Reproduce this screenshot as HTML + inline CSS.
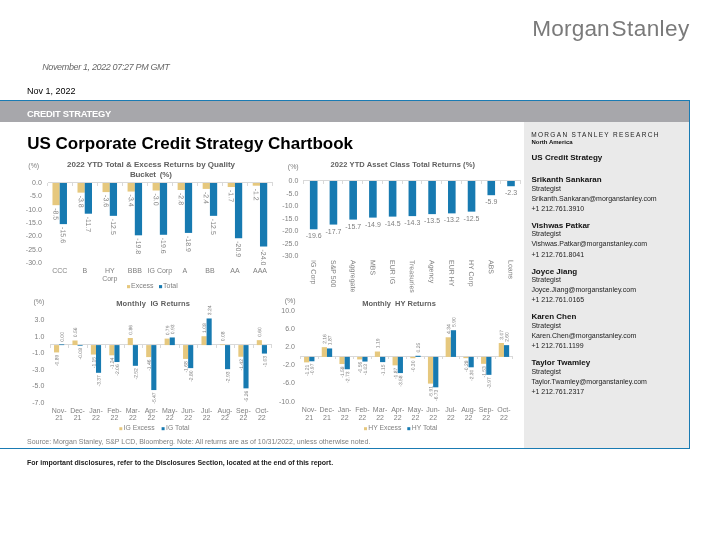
<!DOCTYPE html>
<html><head><meta charset="utf-8"><title>US Corporate Credit Strategy Chartbook</title>
<style>
html,body{margin:0;padding:0;background:#fff;}
body{width:720px;height:540px;position:relative;overflow:hidden;font-family:"Liberation Sans", sans-serif;}
.abs{position:absolute;}
svg{position:absolute;left:0;top:0;will-change:transform;}
svg text{font-family:"Liberation Sans", sans-serif;}
</style></head><body>
<div class="abs" style="left:0;top:100px;width:690px;height:1.2px;background:#1a7bb3"></div>
<div class="abs" style="left:0;top:101.2px;width:689px;height:20.4px;background:#a7a7ab"></div>
<div class="abs" style="left:524.2px;top:121.6px;width:164.8px;height:326.4px;background:#eaeaea"></div>
<div class="abs" style="left:689px;top:100px;width:1px;height:349px;background:#1a7bb3"></div>
<div class="abs" style="left:0;top:448px;width:690px;height:1px;background:#1a7bb3"></div>
<svg width="720" height="540" viewBox="0 0 720 540">
<text x="28.30" y="168.40" font-size="7" fill="#7f7f7f">(%)</text>
<text x="151.00" y="167.40" font-size="8" fill="#606060" font-weight="bold" text-anchor="middle" textLength="168" lengthAdjust="spacing">2022 YTD Total &amp; Excess Returns by Quality</text>
<text x="151.00" y="176.50" font-size="8" fill="#606060" font-weight="bold" text-anchor="middle" textLength="42" lengthAdjust="spacing" style="white-space:pre">Bucket  (%)</text>
<text x="41.80" y="185.00" font-size="7" fill="#7f7f7f" text-anchor="end">0.0</text>
<text x="41.80" y="198.34" font-size="7" fill="#7f7f7f" text-anchor="end">-5.0</text>
<text x="41.80" y="211.67" font-size="7" fill="#7f7f7f" text-anchor="end">-10.0</text>
<text x="41.80" y="225.00" font-size="7" fill="#7f7f7f" text-anchor="end">-15.0</text>
<text x="41.80" y="238.34" font-size="7" fill="#7f7f7f" text-anchor="end">-20.0</text>
<text x="41.80" y="251.68" font-size="7" fill="#7f7f7f" text-anchor="end">-25.0</text>
<text x="41.80" y="265.01" font-size="7" fill="#7f7f7f" text-anchor="end">-30.0</text>
<line x1="47.50" y1="182.50" x2="272.80" y2="182.50" stroke="#d9d9d9" stroke-width="1" shape-rendering="crispEdges"/>
<line x1="47.50" y1="182.50" x2="47.50" y2="185.50" stroke="#d9d9d9" stroke-width="1" shape-rendering="crispEdges"/>
<line x1="72.53" y1="182.50" x2="72.53" y2="185.50" stroke="#d9d9d9" stroke-width="1" shape-rendering="crispEdges"/>
<line x1="97.57" y1="182.50" x2="97.57" y2="185.50" stroke="#d9d9d9" stroke-width="1" shape-rendering="crispEdges"/>
<line x1="122.60" y1="182.50" x2="122.60" y2="185.50" stroke="#d9d9d9" stroke-width="1" shape-rendering="crispEdges"/>
<line x1="147.63" y1="182.50" x2="147.63" y2="185.50" stroke="#d9d9d9" stroke-width="1" shape-rendering="crispEdges"/>
<line x1="172.67" y1="182.50" x2="172.67" y2="185.50" stroke="#d9d9d9" stroke-width="1" shape-rendering="crispEdges"/>
<line x1="197.70" y1="182.50" x2="197.70" y2="185.50" stroke="#d9d9d9" stroke-width="1" shape-rendering="crispEdges"/>
<line x1="222.73" y1="182.50" x2="222.73" y2="185.50" stroke="#d9d9d9" stroke-width="1" shape-rendering="crispEdges"/>
<line x1="247.77" y1="182.50" x2="247.77" y2="185.50" stroke="#d9d9d9" stroke-width="1" shape-rendering="crispEdges"/>
<line x1="272.80" y1="182.50" x2="272.80" y2="185.50" stroke="#d9d9d9" stroke-width="1" shape-rendering="crispEdges"/>
<rect x="52.47" y="183.00" width="7.25" height="22.17" fill="#e6c87e"/>
<rect x="59.72" y="183.00" width="7.25" height="41.11" fill="#177ab1"/>
<text x="0" y="0" transform="translate(56.09,208.17) rotate(89.95)" font-size="7" fill="#7f7f7f" dominant-baseline="central">-8.5</text>
<text x="0" y="0" transform="translate(63.34,227.11) rotate(89.95)" font-size="7" fill="#7f7f7f" dominant-baseline="central">-15.6</text>
<text x="59.72" y="273.20" font-size="7" fill="#7f7f7f" text-anchor="middle">CCC</text>
<rect x="77.50" y="183.00" width="7.25" height="9.63" fill="#e6c87e"/>
<rect x="84.75" y="183.00" width="7.25" height="30.70" fill="#177ab1"/>
<text x="0" y="0" transform="translate(81.13,195.63) rotate(89.95)" font-size="7" fill="#7f7f7f" dominant-baseline="central">-3.8</text>
<text x="0" y="0" transform="translate(88.38,216.70) rotate(89.95)" font-size="7" fill="#7f7f7f" dominant-baseline="central">-11.7</text>
<text x="84.75" y="273.20" font-size="7" fill="#7f7f7f" text-anchor="middle">B</text>
<rect x="102.53" y="183.00" width="7.25" height="9.10" fill="#e6c87e"/>
<rect x="109.78" y="183.00" width="7.25" height="32.84" fill="#177ab1"/>
<text x="0" y="0" transform="translate(106.16,195.10) rotate(89.95)" font-size="7" fill="#7f7f7f" dominant-baseline="central">-3.6</text>
<text x="0" y="0" transform="translate(113.41,218.84) rotate(89.95)" font-size="7" fill="#7f7f7f" dominant-baseline="central">-12.5</text>
<text x="109.78" y="273.20" font-size="7" fill="#7f7f7f" text-anchor="middle">HY</text>
<text x="109.78" y="280.80" font-size="7" fill="#7f7f7f" text-anchor="middle">Corp</text>
<rect x="127.57" y="183.00" width="7.25" height="8.57" fill="#e6c87e"/>
<rect x="134.82" y="183.00" width="7.25" height="52.31" fill="#177ab1"/>
<text x="0" y="0" transform="translate(131.19,194.57) rotate(89.95)" font-size="7" fill="#7f7f7f" dominant-baseline="central">-3.4</text>
<text x="0" y="0" transform="translate(138.44,238.31) rotate(89.95)" font-size="7" fill="#7f7f7f" dominant-baseline="central">-19.8</text>
<text x="134.82" y="273.20" font-size="7" fill="#7f7f7f" text-anchor="middle">BBB</text>
<rect x="152.60" y="183.00" width="7.25" height="7.50" fill="#e6c87e"/>
<rect x="159.85" y="183.00" width="7.25" height="51.77" fill="#177ab1"/>
<text x="0" y="0" transform="translate(156.22,193.50) rotate(89.95)" font-size="7" fill="#7f7f7f" dominant-baseline="central">-3.0</text>
<text x="0" y="0" transform="translate(163.47,237.77) rotate(89.95)" font-size="7" fill="#7f7f7f" dominant-baseline="central">-19.6</text>
<text x="159.85" y="273.20" font-size="7" fill="#7f7f7f" text-anchor="middle">IG Corp</text>
<rect x="177.63" y="183.00" width="7.25" height="6.97" fill="#e6c87e"/>
<rect x="184.88" y="183.00" width="7.25" height="49.91" fill="#177ab1"/>
<text x="0" y="0" transform="translate(181.26,192.97) rotate(89.95)" font-size="7" fill="#7f7f7f" dominant-baseline="central">-2.8</text>
<text x="0" y="0" transform="translate(188.51,235.91) rotate(89.95)" font-size="7" fill="#7f7f7f" dominant-baseline="central">-18.9</text>
<text x="184.88" y="273.20" font-size="7" fill="#7f7f7f" text-anchor="middle">A</text>
<rect x="202.67" y="183.00" width="7.25" height="5.90" fill="#e6c87e"/>
<rect x="209.92" y="183.00" width="7.25" height="32.84" fill="#177ab1"/>
<text x="0" y="0" transform="translate(206.29,191.90) rotate(89.95)" font-size="7" fill="#7f7f7f" dominant-baseline="central">-2.4</text>
<text x="0" y="0" transform="translate(213.54,218.84) rotate(89.95)" font-size="7" fill="#7f7f7f" dominant-baseline="central">-12.5</text>
<text x="209.92" y="273.20" font-size="7" fill="#7f7f7f" text-anchor="middle">BB</text>
<rect x="227.70" y="183.00" width="7.25" height="4.03" fill="#e6c87e"/>
<rect x="234.95" y="183.00" width="7.25" height="55.24" fill="#177ab1"/>
<text x="0" y="0" transform="translate(231.32,190.03) rotate(89.95)" font-size="7" fill="#7f7f7f" dominant-baseline="central">-1.7</text>
<text x="0" y="0" transform="translate(238.57,241.24) rotate(89.95)" font-size="7" fill="#7f7f7f" dominant-baseline="central">-20.9</text>
<text x="234.95" y="273.20" font-size="7" fill="#7f7f7f" text-anchor="middle">AA</text>
<rect x="252.73" y="183.00" width="7.25" height="2.70" fill="#e6c87e"/>
<rect x="259.98" y="183.00" width="7.25" height="63.51" fill="#177ab1"/>
<text x="0" y="0" transform="translate(256.36,188.70) rotate(89.95)" font-size="7" fill="#7f7f7f" dominant-baseline="central">-1.2</text>
<text x="0" y="0" transform="translate(263.61,249.51) rotate(89.95)" font-size="7" fill="#7f7f7f" dominant-baseline="central">-24.0</text>
<text x="259.98" y="273.20" font-size="7" fill="#7f7f7f" text-anchor="middle">AAA</text>
<rect x="127.00" y="285.10" width="3.10" height="3.10" fill="#e6c87e"/>
<text x="131.00" y="288.20" font-size="7" fill="#7f7f7f">Excess</text>
<rect x="159.00" y="285.10" width="3.10" height="3.10" fill="#177ab1"/>
<text x="163.00" y="288.20" font-size="7" fill="#7f7f7f">Total</text>
<text x="287.80" y="168.70" font-size="7" fill="#7f7f7f">(%)</text>
<text x="330.60" y="167.20" font-size="7.5" fill="#606060" font-weight="bold" textLength="144.3" lengthAdjust="spacing">2022 YTD Asset Class Total Returns (%)</text>
<text x="298.30" y="183.10" font-size="7" fill="#7f7f7f" text-anchor="end">0.0</text>
<text x="298.30" y="195.60" font-size="7" fill="#7f7f7f" text-anchor="end">-5.0</text>
<text x="298.30" y="208.10" font-size="7" fill="#7f7f7f" text-anchor="end">-10.0</text>
<text x="298.30" y="220.60" font-size="7" fill="#7f7f7f" text-anchor="end">-15.0</text>
<text x="298.30" y="233.10" font-size="7" fill="#7f7f7f" text-anchor="end">-20.0</text>
<text x="298.30" y="245.60" font-size="7" fill="#7f7f7f" text-anchor="end">-25.0</text>
<text x="298.30" y="258.10" font-size="7" fill="#7f7f7f" text-anchor="end">-30.0</text>
<line x1="303.30" y1="180.50" x2="520.70" y2="180.50" stroke="#d9d9d9" stroke-width="1" shape-rendering="crispEdges"/>
<line x1="303.30" y1="180.50" x2="303.30" y2="183.50" stroke="#d9d9d9" stroke-width="1" shape-rendering="crispEdges"/>
<line x1="323.06" y1="180.50" x2="323.06" y2="183.50" stroke="#d9d9d9" stroke-width="1" shape-rendering="crispEdges"/>
<line x1="342.83" y1="180.50" x2="342.83" y2="183.50" stroke="#d9d9d9" stroke-width="1" shape-rendering="crispEdges"/>
<line x1="362.59" y1="180.50" x2="362.59" y2="183.50" stroke="#d9d9d9" stroke-width="1" shape-rendering="crispEdges"/>
<line x1="382.35" y1="180.50" x2="382.35" y2="183.50" stroke="#d9d9d9" stroke-width="1" shape-rendering="crispEdges"/>
<line x1="402.12" y1="180.50" x2="402.12" y2="183.50" stroke="#d9d9d9" stroke-width="1" shape-rendering="crispEdges"/>
<line x1="421.88" y1="180.50" x2="421.88" y2="183.50" stroke="#d9d9d9" stroke-width="1" shape-rendering="crispEdges"/>
<line x1="441.65" y1="180.50" x2="441.65" y2="183.50" stroke="#d9d9d9" stroke-width="1" shape-rendering="crispEdges"/>
<line x1="461.41" y1="180.50" x2="461.41" y2="183.50" stroke="#d9d9d9" stroke-width="1" shape-rendering="crispEdges"/>
<line x1="481.17" y1="180.50" x2="481.17" y2="183.50" stroke="#d9d9d9" stroke-width="1" shape-rendering="crispEdges"/>
<line x1="500.94" y1="180.50" x2="500.94" y2="183.50" stroke="#d9d9d9" stroke-width="1" shape-rendering="crispEdges"/>
<line x1="520.70" y1="180.50" x2="520.70" y2="183.50" stroke="#d9d9d9" stroke-width="1" shape-rendering="crispEdges"/>
<rect x="309.90" y="181.00" width="7.60" height="48.30" fill="#177ab1"/>
<text x="313.70" y="238.40" font-size="7" fill="#7f7f7f" text-anchor="middle">-19.6</text>
<text x="0" y="0" transform="translate(313.70,260.00) rotate(89.95)" font-size="7" fill="#7f7f7f" dominant-baseline="central">IG Corp</text>
<rect x="329.63" y="181.00" width="7.60" height="43.57" fill="#177ab1"/>
<text x="333.43" y="233.67" font-size="7" fill="#7f7f7f" text-anchor="middle">-17.7</text>
<text x="0" y="0" transform="translate(333.43,260.00) rotate(89.95)" font-size="7" fill="#7f7f7f" dominant-baseline="central">S&amp;P 500</text>
<rect x="349.36" y="181.00" width="7.60" height="38.59" fill="#177ab1"/>
<text x="353.16" y="228.69" font-size="7" fill="#7f7f7f" text-anchor="middle">-15.7</text>
<text x="0" y="0" transform="translate(353.16,260.00) rotate(89.95)" font-size="7" fill="#7f7f7f" dominant-baseline="central">Aggregate</text>
<rect x="369.09" y="181.00" width="7.60" height="36.60" fill="#177ab1"/>
<text x="372.89" y="226.70" font-size="7" fill="#7f7f7f" text-anchor="middle">-14.9</text>
<text x="0" y="0" transform="translate(372.89,260.00) rotate(89.95)" font-size="7" fill="#7f7f7f" dominant-baseline="central">MBS</text>
<rect x="388.82" y="181.00" width="7.60" height="35.61" fill="#177ab1"/>
<text x="392.62" y="225.71" font-size="7" fill="#7f7f7f" text-anchor="middle">-14.5</text>
<text x="0" y="0" transform="translate(392.62,260.00) rotate(89.95)" font-size="7" fill="#7f7f7f" dominant-baseline="central">EUR IG</text>
<rect x="408.55" y="181.00" width="7.60" height="35.11" fill="#177ab1"/>
<text x="412.35" y="225.21" font-size="7" fill="#7f7f7f" text-anchor="middle">-14.3</text>
<text x="0" y="0" transform="translate(412.35,260.00) rotate(89.95)" font-size="7" fill="#7f7f7f" dominant-baseline="central">Treasuries</text>
<rect x="428.28" y="181.00" width="7.60" height="33.12" fill="#177ab1"/>
<text x="432.08" y="223.22" font-size="7" fill="#7f7f7f" text-anchor="middle">-13.5</text>
<text x="0" y="0" transform="translate(432.08,260.00) rotate(89.95)" font-size="7" fill="#7f7f7f" dominant-baseline="central">Agency</text>
<rect x="448.01" y="181.00" width="7.60" height="32.37" fill="#177ab1"/>
<text x="451.81" y="222.47" font-size="7" fill="#7f7f7f" text-anchor="middle">-13.2</text>
<text x="0" y="0" transform="translate(451.81,260.00) rotate(89.95)" font-size="7" fill="#7f7f7f" dominant-baseline="central">EUR HY</text>
<rect x="467.74" y="181.00" width="7.60" height="30.63" fill="#177ab1"/>
<text x="471.54" y="220.72" font-size="7" fill="#7f7f7f" text-anchor="middle">-12.5</text>
<text x="0" y="0" transform="translate(471.54,260.00) rotate(89.95)" font-size="7" fill="#7f7f7f" dominant-baseline="central">HY Corp</text>
<rect x="487.47" y="181.00" width="7.60" height="14.19" fill="#177ab1"/>
<text x="491.27" y="204.29" font-size="7" fill="#7f7f7f" text-anchor="middle">-5.9</text>
<text x="0" y="0" transform="translate(491.27,260.00) rotate(89.95)" font-size="7" fill="#7f7f7f" dominant-baseline="central">ABS</text>
<rect x="507.20" y="181.00" width="7.60" height="5.23" fill="#177ab1"/>
<text x="511.00" y="195.33" font-size="7" fill="#7f7f7f" text-anchor="middle">-2.3</text>
<text x="0" y="0" transform="translate(511.00,260.00) rotate(89.95)" font-size="7" fill="#7f7f7f" dominant-baseline="central">Loans</text>
<text x="33.40" y="303.50" font-size="7" fill="#7f7f7f">(%)</text>
<text x="116.20" y="306.00" font-size="7.5" fill="#606060" font-weight="bold" textLength="73.8" lengthAdjust="spacing" style="white-space:pre">Monthly  IG Returns</text>
<text x="44.30" y="322.44" font-size="7" fill="#7f7f7f" text-anchor="end">3.0</text>
<text x="44.30" y="338.88" font-size="7" fill="#7f7f7f" text-anchor="end">1.0</text>
<text x="44.30" y="355.32" font-size="7" fill="#7f7f7f" text-anchor="end">-1.0</text>
<text x="44.30" y="371.76" font-size="7" fill="#7f7f7f" text-anchor="end">-3.0</text>
<text x="44.30" y="388.20" font-size="7" fill="#7f7f7f" text-anchor="end">-5.0</text>
<text x="44.30" y="404.64" font-size="7" fill="#7f7f7f" text-anchor="end">-7.0</text>
<line x1="50.30" y1="344.60" x2="271.50" y2="344.60" stroke="#d9d9d9" stroke-width="1" shape-rendering="crispEdges"/>
<line x1="50.30" y1="344.60" x2="50.30" y2="347.60" stroke="#d9d9d9" stroke-width="1" shape-rendering="crispEdges"/>
<line x1="68.73" y1="344.60" x2="68.73" y2="347.60" stroke="#d9d9d9" stroke-width="1" shape-rendering="crispEdges"/>
<line x1="87.17" y1="344.60" x2="87.17" y2="347.60" stroke="#d9d9d9" stroke-width="1" shape-rendering="crispEdges"/>
<line x1="105.60" y1="344.60" x2="105.60" y2="347.60" stroke="#d9d9d9" stroke-width="1" shape-rendering="crispEdges"/>
<line x1="124.03" y1="344.60" x2="124.03" y2="347.60" stroke="#d9d9d9" stroke-width="1" shape-rendering="crispEdges"/>
<line x1="142.47" y1="344.60" x2="142.47" y2="347.60" stroke="#d9d9d9" stroke-width="1" shape-rendering="crispEdges"/>
<line x1="160.90" y1="344.60" x2="160.90" y2="347.60" stroke="#d9d9d9" stroke-width="1" shape-rendering="crispEdges"/>
<line x1="179.33" y1="344.60" x2="179.33" y2="347.60" stroke="#d9d9d9" stroke-width="1" shape-rendering="crispEdges"/>
<line x1="197.77" y1="344.60" x2="197.77" y2="347.60" stroke="#d9d9d9" stroke-width="1" shape-rendering="crispEdges"/>
<line x1="216.20" y1="344.60" x2="216.20" y2="347.60" stroke="#d9d9d9" stroke-width="1" shape-rendering="crispEdges"/>
<line x1="234.63" y1="344.60" x2="234.63" y2="347.60" stroke="#d9d9d9" stroke-width="1" shape-rendering="crispEdges"/>
<line x1="253.07" y1="344.60" x2="253.07" y2="347.60" stroke="#d9d9d9" stroke-width="1" shape-rendering="crispEdges"/>
<line x1="271.50" y1="344.60" x2="271.50" y2="347.60" stroke="#d9d9d9" stroke-width="1" shape-rendering="crispEdges"/>
<rect x="54.02" y="345.10" width="5.10" height="7.32" fill="#e6c87e"/>
<text x="0" y="0" transform="translate(56.57,354.72) rotate(-89.95)" font-size="5" fill="#7f7f7f" text-anchor="end" dominant-baseline="central">-0.89</text>
<rect x="59.12" y="344.40" width="5.10" height="0.70" fill="#177ab1"/>
<text x="0" y="0" transform="translate(61.67,341.80) rotate(-89.95)" font-size="5" fill="#7f7f7f" dominant-baseline="central">0.00</text>
<text x="59.12" y="412.80" font-size="7" fill="#7f7f7f" text-anchor="middle">Nov-</text>
<text x="59.12" y="420.40" font-size="7" fill="#7f7f7f" text-anchor="middle">21</text>
<rect x="72.45" y="340.50" width="5.10" height="4.60" fill="#e6c87e"/>
<text x="0" y="0" transform="translate(75.00,337.20) rotate(-89.95)" font-size="5" fill="#7f7f7f" dominant-baseline="central">0.56</text>
<rect x="77.55" y="345.10" width="5.10" height="0.70" fill="#177ab1"/>
<text x="0" y="0" transform="translate(80.10,348.06) rotate(-89.95)" font-size="5" fill="#7f7f7f" text-anchor="end" dominant-baseline="central">-0.08</text>
<text x="77.55" y="412.80" font-size="7" fill="#7f7f7f" text-anchor="middle">Dec-</text>
<text x="77.55" y="420.40" font-size="7" fill="#7f7f7f" text-anchor="middle">21</text>
<rect x="90.88" y="345.10" width="5.10" height="9.45" fill="#e6c87e"/>
<text x="0" y="0" transform="translate(93.43,356.85) rotate(-89.95)" font-size="5" fill="#7f7f7f" text-anchor="end" dominant-baseline="central">-1.15</text>
<rect x="95.98" y="345.10" width="5.10" height="27.70" fill="#177ab1"/>
<text x="0" y="0" transform="translate(98.53,375.10) rotate(-89.95)" font-size="5" fill="#7f7f7f" text-anchor="end" dominant-baseline="central">-3.37</text>
<text x="95.98" y="412.80" font-size="7" fill="#7f7f7f" text-anchor="middle">Jan-</text>
<text x="95.98" y="420.40" font-size="7" fill="#7f7f7f" text-anchor="middle">22</text>
<rect x="109.32" y="345.10" width="5.10" height="10.19" fill="#e6c87e"/>
<text x="0" y="0" transform="translate(111.87,357.59) rotate(-89.95)" font-size="5" fill="#7f7f7f" text-anchor="end" dominant-baseline="central">-1.24</text>
<rect x="114.42" y="345.10" width="5.10" height="16.93" fill="#177ab1"/>
<text x="0" y="0" transform="translate(116.97,364.33) rotate(-89.95)" font-size="5" fill="#7f7f7f" text-anchor="end" dominant-baseline="central">-2.06</text>
<text x="114.42" y="412.80" font-size="7" fill="#7f7f7f" text-anchor="middle">Feb-</text>
<text x="114.42" y="420.40" font-size="7" fill="#7f7f7f" text-anchor="middle">22</text>
<rect x="127.75" y="338.03" width="5.10" height="7.07" fill="#e6c87e"/>
<text x="0" y="0" transform="translate(130.30,334.73) rotate(-89.95)" font-size="5" fill="#7f7f7f" dominant-baseline="central">0.86</text>
<rect x="132.85" y="345.10" width="5.10" height="20.71" fill="#177ab1"/>
<text x="0" y="0" transform="translate(135.40,368.11) rotate(-89.95)" font-size="5" fill="#7f7f7f" text-anchor="end" dominant-baseline="central">-2.52</text>
<text x="132.85" y="412.80" font-size="7" fill="#7f7f7f" text-anchor="middle">Mar-</text>
<text x="132.85" y="420.40" font-size="7" fill="#7f7f7f" text-anchor="middle">22</text>
<rect x="146.18" y="345.10" width="5.10" height="12.00" fill="#e6c87e"/>
<text x="0" y="0" transform="translate(148.73,359.40) rotate(-89.95)" font-size="5" fill="#7f7f7f" text-anchor="end" dominant-baseline="central">-1.46</text>
<rect x="151.28" y="345.10" width="5.10" height="44.96" fill="#177ab1"/>
<text x="0" y="0" transform="translate(153.83,392.36) rotate(-89.95)" font-size="5" fill="#7f7f7f" text-anchor="end" dominant-baseline="central">-5.47</text>
<text x="151.28" y="412.80" font-size="7" fill="#7f7f7f" text-anchor="middle">Apr-</text>
<text x="151.28" y="420.40" font-size="7" fill="#7f7f7f" text-anchor="middle">22</text>
<rect x="164.62" y="338.61" width="5.10" height="6.49" fill="#e6c87e"/>
<text x="0" y="0" transform="translate(167.17,335.31) rotate(-89.95)" font-size="5" fill="#7f7f7f" dominant-baseline="central">0.79</text>
<rect x="169.72" y="337.46" width="5.10" height="7.64" fill="#177ab1"/>
<text x="0" y="0" transform="translate(172.27,334.16) rotate(-89.95)" font-size="5" fill="#7f7f7f" dominant-baseline="central">0.93</text>
<text x="169.72" y="412.80" font-size="7" fill="#7f7f7f" text-anchor="middle">May-</text>
<text x="169.72" y="420.40" font-size="7" fill="#7f7f7f" text-anchor="middle">22</text>
<rect x="183.05" y="345.10" width="5.10" height="13.81" fill="#e6c87e"/>
<text x="0" y="0" transform="translate(185.60,361.21) rotate(-89.95)" font-size="5" fill="#7f7f7f" text-anchor="end" dominant-baseline="central">-1.68</text>
<rect x="188.15" y="345.10" width="5.10" height="23.02" fill="#177ab1"/>
<text x="0" y="0" transform="translate(190.70,370.42) rotate(-89.95)" font-size="5" fill="#7f7f7f" text-anchor="end" dominant-baseline="central">-2.80</text>
<text x="188.15" y="412.80" font-size="7" fill="#7f7f7f" text-anchor="middle">Jun-</text>
<text x="188.15" y="420.40" font-size="7" fill="#7f7f7f" text-anchor="middle">22</text>
<rect x="201.48" y="336.22" width="5.10" height="8.88" fill="#e6c87e"/>
<text x="0" y="0" transform="translate(204.03,332.92) rotate(-89.95)" font-size="5" fill="#7f7f7f" dominant-baseline="central">1.08</text>
<rect x="206.58" y="318.47" width="5.10" height="26.63" fill="#177ab1"/>
<text x="0" y="0" transform="translate(209.13,315.17) rotate(-89.95)" font-size="5" fill="#7f7f7f" dominant-baseline="central">3.24</text>
<text x="206.58" y="412.80" font-size="7" fill="#7f7f7f" text-anchor="middle">Jul-</text>
<text x="206.58" y="420.40" font-size="7" fill="#7f7f7f" text-anchor="middle">22</text>
<rect x="219.92" y="344.40" width="5.10" height="0.70" fill="#e6c87e"/>
<text x="0" y="0" transform="translate(222.47,341.14) rotate(-89.95)" font-size="5" fill="#7f7f7f" dominant-baseline="central">0.08</text>
<rect x="225.02" y="345.10" width="5.10" height="24.08" fill="#177ab1"/>
<text x="0" y="0" transform="translate(227.57,371.48) rotate(-89.95)" font-size="5" fill="#7f7f7f" text-anchor="end" dominant-baseline="central">-2.93</text>
<text x="225.02" y="412.80" font-size="7" fill="#7f7f7f" text-anchor="middle">Aug-</text>
<text x="225.02" y="420.40" font-size="7" fill="#7f7f7f" text-anchor="middle">22</text>
<rect x="238.35" y="345.10" width="5.10" height="11.67" fill="#e6c87e"/>
<text x="0" y="0" transform="translate(240.90,359.07) rotate(-89.95)" font-size="5" fill="#7f7f7f" text-anchor="end" dominant-baseline="central">-1.42</text>
<rect x="243.45" y="345.10" width="5.10" height="43.24" fill="#177ab1"/>
<text x="0" y="0" transform="translate(246.00,390.64) rotate(-89.95)" font-size="5" fill="#7f7f7f" text-anchor="end" dominant-baseline="central">-5.26</text>
<text x="243.45" y="412.80" font-size="7" fill="#7f7f7f" text-anchor="middle">Sep-</text>
<text x="243.45" y="420.40" font-size="7" fill="#7f7f7f" text-anchor="middle">22</text>
<rect x="256.78" y="340.17" width="5.10" height="4.93" fill="#e6c87e"/>
<text x="0" y="0" transform="translate(259.33,336.87) rotate(-89.95)" font-size="5" fill="#7f7f7f" dominant-baseline="central">0.60</text>
<rect x="261.88" y="345.10" width="5.10" height="8.47" fill="#177ab1"/>
<text x="0" y="0" transform="translate(264.43,355.87) rotate(-89.95)" font-size="5" fill="#7f7f7f" text-anchor="end" dominant-baseline="central">-1.03</text>
<text x="261.88" y="412.80" font-size="7" fill="#7f7f7f" text-anchor="middle">Oct-</text>
<text x="261.88" y="420.40" font-size="7" fill="#7f7f7f" text-anchor="middle">22</text>
<rect x="119.30" y="427.20" width="3.00" height="3.00" fill="#e6c87e"/>
<text x="123.60" y="430.20" font-size="6.8" fill="#7f7f7f">IG Excess</text>
<rect x="161.60" y="427.20" width="3.00" height="3.00" fill="#177ab1"/>
<text x="166.10" y="430.20" font-size="6.8" fill="#7f7f7f">IG Total</text>
<text x="284.70" y="303.20" font-size="7" fill="#7f7f7f">(%)</text>
<text x="362.20" y="306.00" font-size="7.5" fill="#606060" font-weight="bold" textLength="73.6" lengthAdjust="spacing" style="white-space:pre">Monthly  HY Returns</text>
<text x="294.90" y="313.10" font-size="7" fill="#7f7f7f" text-anchor="end">10.0</text>
<text x="294.90" y="331.18" font-size="7" fill="#7f7f7f" text-anchor="end">6.0</text>
<text x="294.90" y="349.26" font-size="7" fill="#7f7f7f" text-anchor="end">2.0</text>
<text x="294.90" y="367.34" font-size="7" fill="#7f7f7f" text-anchor="end">-2.0</text>
<text x="294.90" y="385.42" font-size="7" fill="#7f7f7f" text-anchor="end">-6.0</text>
<text x="294.90" y="403.50" font-size="7" fill="#7f7f7f" text-anchor="end">-10.0</text>
<line x1="300.40" y1="356.40" x2="512.80" y2="356.40" stroke="#d9d9d9" stroke-width="1" shape-rendering="crispEdges"/>
<line x1="300.40" y1="356.40" x2="300.40" y2="359.40" stroke="#d9d9d9" stroke-width="1" shape-rendering="crispEdges"/>
<line x1="318.10" y1="356.40" x2="318.10" y2="359.40" stroke="#d9d9d9" stroke-width="1" shape-rendering="crispEdges"/>
<line x1="335.80" y1="356.40" x2="335.80" y2="359.40" stroke="#d9d9d9" stroke-width="1" shape-rendering="crispEdges"/>
<line x1="353.50" y1="356.40" x2="353.50" y2="359.40" stroke="#d9d9d9" stroke-width="1" shape-rendering="crispEdges"/>
<line x1="371.20" y1="356.40" x2="371.20" y2="359.40" stroke="#d9d9d9" stroke-width="1" shape-rendering="crispEdges"/>
<line x1="388.90" y1="356.40" x2="388.90" y2="359.40" stroke="#d9d9d9" stroke-width="1" shape-rendering="crispEdges"/>
<line x1="406.60" y1="356.40" x2="406.60" y2="359.40" stroke="#d9d9d9" stroke-width="1" shape-rendering="crispEdges"/>
<line x1="424.30" y1="356.40" x2="424.30" y2="359.40" stroke="#d9d9d9" stroke-width="1" shape-rendering="crispEdges"/>
<line x1="442.00" y1="356.40" x2="442.00" y2="359.40" stroke="#d9d9d9" stroke-width="1" shape-rendering="crispEdges"/>
<line x1="459.70" y1="356.40" x2="459.70" y2="359.40" stroke="#d9d9d9" stroke-width="1" shape-rendering="crispEdges"/>
<line x1="477.40" y1="356.40" x2="477.40" y2="359.40" stroke="#d9d9d9" stroke-width="1" shape-rendering="crispEdges"/>
<line x1="495.10" y1="356.40" x2="495.10" y2="359.40" stroke="#d9d9d9" stroke-width="1" shape-rendering="crispEdges"/>
<line x1="512.80" y1="356.40" x2="512.80" y2="359.40" stroke="#d9d9d9" stroke-width="1" shape-rendering="crispEdges"/>
<rect x="304.05" y="356.90" width="5.20" height="5.47" fill="#e6c87e"/>
<text x="0" y="0" transform="translate(306.65,364.67) rotate(-89.95)" font-size="5" fill="#7f7f7f" text-anchor="end" dominant-baseline="central">-1.21</text>
<rect x="309.25" y="356.90" width="5.20" height="4.38" fill="#177ab1"/>
<text x="0" y="0" transform="translate(311.85,363.58) rotate(-89.95)" font-size="5" fill="#7f7f7f" text-anchor="end" dominant-baseline="central">-0.97</text>
<text x="309.25" y="412.10" font-size="7" fill="#7f7f7f" text-anchor="middle">Nov-</text>
<text x="309.25" y="419.70" font-size="7" fill="#7f7f7f" text-anchor="middle">21</text>
<rect x="321.75" y="347.14" width="5.20" height="9.76" fill="#e6c87e"/>
<text x="0" y="0" transform="translate(324.35,343.84) rotate(-89.95)" font-size="5" fill="#7f7f7f" dominant-baseline="central">2.16</text>
<rect x="326.95" y="348.45" width="5.20" height="8.45" fill="#177ab1"/>
<text x="0" y="0" transform="translate(329.55,345.15) rotate(-89.95)" font-size="5" fill="#7f7f7f" dominant-baseline="central">1.87</text>
<text x="326.95" y="412.10" font-size="7" fill="#7f7f7f" text-anchor="middle">Dec-</text>
<text x="326.95" y="419.70" font-size="7" fill="#7f7f7f" text-anchor="middle">21</text>
<rect x="339.45" y="356.90" width="5.20" height="7.14" fill="#e6c87e"/>
<text x="0" y="0" transform="translate(342.05,366.34) rotate(-89.95)" font-size="5" fill="#7f7f7f" text-anchor="end" dominant-baseline="central">-1.58</text>
<rect x="344.65" y="356.90" width="5.20" height="12.34" fill="#177ab1"/>
<text x="0" y="0" transform="translate(347.25,371.54) rotate(-89.95)" font-size="5" fill="#7f7f7f" text-anchor="end" dominant-baseline="central">-2.73</text>
<text x="344.65" y="412.10" font-size="7" fill="#7f7f7f" text-anchor="middle">Jan-</text>
<text x="344.65" y="419.70" font-size="7" fill="#7f7f7f" text-anchor="middle">22</text>
<rect x="357.15" y="356.90" width="5.20" height="2.53" fill="#e6c87e"/>
<text x="0" y="0" transform="translate(359.75,361.73) rotate(-89.95)" font-size="5" fill="#7f7f7f" text-anchor="end" dominant-baseline="central">-0.56</text>
<rect x="362.35" y="356.90" width="5.20" height="4.66" fill="#177ab1"/>
<text x="0" y="0" transform="translate(364.95,363.86) rotate(-89.95)" font-size="5" fill="#7f7f7f" text-anchor="end" dominant-baseline="central">-1.03</text>
<text x="362.35" y="412.10" font-size="7" fill="#7f7f7f" text-anchor="middle">Feb-</text>
<text x="362.35" y="419.70" font-size="7" fill="#7f7f7f" text-anchor="middle">22</text>
<rect x="374.85" y="351.52" width="5.20" height="5.38" fill="#e6c87e"/>
<text x="0" y="0" transform="translate(377.45,348.22) rotate(-89.95)" font-size="5" fill="#7f7f7f" dominant-baseline="central">1.19</text>
<rect x="380.05" y="356.90" width="5.20" height="5.20" fill="#177ab1"/>
<text x="0" y="0" transform="translate(382.65,364.40) rotate(-89.95)" font-size="5" fill="#7f7f7f" text-anchor="end" dominant-baseline="central">-1.15</text>
<text x="380.05" y="412.10" font-size="7" fill="#7f7f7f" text-anchor="middle">Mar-</text>
<text x="380.05" y="419.70" font-size="7" fill="#7f7f7f" text-anchor="middle">22</text>
<rect x="392.55" y="356.90" width="5.20" height="8.45" fill="#e6c87e"/>
<text x="0" y="0" transform="translate(395.15,367.65) rotate(-89.95)" font-size="5" fill="#7f7f7f" text-anchor="end" dominant-baseline="central">-1.87</text>
<rect x="397.75" y="356.90" width="5.20" height="16.18" fill="#177ab1"/>
<text x="0" y="0" transform="translate(400.35,375.38) rotate(-89.95)" font-size="5" fill="#7f7f7f" text-anchor="end" dominant-baseline="central">-3.58</text>
<text x="397.75" y="412.10" font-size="7" fill="#7f7f7f" text-anchor="middle">Apr-</text>
<text x="397.75" y="419.70" font-size="7" fill="#7f7f7f" text-anchor="middle">22</text>
<rect x="410.25" y="356.90" width="5.20" height="1.36" fill="#e6c87e"/>
<text x="0" y="0" transform="translate(412.85,360.56) rotate(-89.95)" font-size="5" fill="#7f7f7f" text-anchor="end" dominant-baseline="central">-0.30</text>
<rect x="415.45" y="355.77" width="5.20" height="1.13" fill="#177ab1"/>
<text x="0" y="0" transform="translate(418.05,352.47) rotate(-89.95)" font-size="5" fill="#7f7f7f" dominant-baseline="central">0.25</text>
<text x="415.45" y="412.10" font-size="7" fill="#7f7f7f" text-anchor="middle">May-</text>
<text x="415.45" y="419.70" font-size="7" fill="#7f7f7f" text-anchor="middle">22</text>
<rect x="427.95" y="356.90" width="5.20" height="26.71" fill="#e6c87e"/>
<text x="0" y="0" transform="translate(430.55,385.91) rotate(-89.95)" font-size="5" fill="#7f7f7f" text-anchor="end" dominant-baseline="central">-5.91</text>
<rect x="433.15" y="356.90" width="5.20" height="30.42" fill="#177ab1"/>
<text x="0" y="0" transform="translate(435.75,389.62) rotate(-89.95)" font-size="5" fill="#7f7f7f" text-anchor="end" dominant-baseline="central">-6.73</text>
<text x="433.15" y="412.10" font-size="7" fill="#7f7f7f" text-anchor="middle">Jun-</text>
<text x="433.15" y="419.70" font-size="7" fill="#7f7f7f" text-anchor="middle">22</text>
<rect x="445.65" y="337.28" width="5.20" height="19.62" fill="#e6c87e"/>
<text x="0" y="0" transform="translate(448.25,333.98) rotate(-89.95)" font-size="5" fill="#7f7f7f" dominant-baseline="central">4.34</text>
<rect x="450.85" y="330.23" width="5.20" height="26.67" fill="#177ab1"/>
<text x="0" y="0" transform="translate(453.45,326.93) rotate(-89.95)" font-size="5" fill="#7f7f7f" dominant-baseline="central">5.90</text>
<text x="450.85" y="412.10" font-size="7" fill="#7f7f7f" text-anchor="middle">Jul-</text>
<text x="450.85" y="419.70" font-size="7" fill="#7f7f7f" text-anchor="middle">22</text>
<rect x="463.35" y="356.90" width="5.20" height="1.27" fill="#e6c87e"/>
<text x="0" y="0" transform="translate(465.95,360.47) rotate(-89.95)" font-size="5" fill="#7f7f7f" text-anchor="end" dominant-baseline="central">-0.28</text>
<rect x="468.55" y="356.90" width="5.20" height="10.40" fill="#177ab1"/>
<text x="0" y="0" transform="translate(471.15,369.60) rotate(-89.95)" font-size="5" fill="#7f7f7f" text-anchor="end" dominant-baseline="central">-2.30</text>
<text x="468.55" y="412.10" font-size="7" fill="#7f7f7f" text-anchor="middle">Aug-</text>
<text x="468.55" y="419.70" font-size="7" fill="#7f7f7f" text-anchor="middle">22</text>
<rect x="481.05" y="356.90" width="5.20" height="6.92" fill="#e6c87e"/>
<text x="0" y="0" transform="translate(483.65,366.12) rotate(-89.95)" font-size="5" fill="#7f7f7f" text-anchor="end" dominant-baseline="central">-1.53</text>
<rect x="486.25" y="356.90" width="5.20" height="17.94" fill="#177ab1"/>
<text x="0" y="0" transform="translate(488.85,377.14) rotate(-89.95)" font-size="5" fill="#7f7f7f" text-anchor="end" dominant-baseline="central">-3.97</text>
<text x="486.25" y="412.10" font-size="7" fill="#7f7f7f" text-anchor="middle">Sep-</text>
<text x="486.25" y="419.70" font-size="7" fill="#7f7f7f" text-anchor="middle">22</text>
<rect x="498.75" y="343.02" width="5.20" height="13.88" fill="#e6c87e"/>
<text x="0" y="0" transform="translate(501.35,339.72) rotate(-89.95)" font-size="5" fill="#7f7f7f" dominant-baseline="central">3.07</text>
<rect x="503.95" y="345.15" width="5.20" height="11.75" fill="#177ab1"/>
<text x="0" y="0" transform="translate(506.55,341.85) rotate(-89.95)" font-size="5" fill="#7f7f7f" dominant-baseline="central">2.60</text>
<text x="503.95" y="412.10" font-size="7" fill="#7f7f7f" text-anchor="middle">Oct-</text>
<text x="503.95" y="419.70" font-size="7" fill="#7f7f7f" text-anchor="middle">22</text>
<rect x="364.00" y="427.20" width="3.00" height="3.00" fill="#e6c87e"/>
<text x="368.30" y="430.20" font-size="6.8" fill="#7f7f7f">HY Excess</text>
<rect x="407.30" y="427.20" width="3.00" height="3.00" fill="#177ab1"/>
<text x="411.80" y="430.20" font-size="6.8" fill="#7f7f7f">HY Total</text>
<text x="532.20" y="36.30" font-size="22.6" fill="#7a7a7a" textLength="77.5" lengthAdjust="spacing">Morgan</text>
<text x="611.60" y="36.30" font-size="22.6" fill="#7a7a7a" textLength="77.6" lengthAdjust="spacing">Stanley</text>
<text x="42.20" y="70.10" font-size="9" fill="#686868" font-style="italic" textLength="127.5" lengthAdjust="spacing">November 1, 2022 07:27 PM GMT</text>
<text x="27.00" y="93.90" font-size="9" fill="#000">Nov 1, 2022</text>
<text x="27.00" y="116.80" font-size="9.4" fill="#ffffff" font-weight="bold" textLength="84.3" lengthAdjust="spacing">CREDIT STRATEGY</text>
<text x="27.20" y="148.70" font-size="17" fill="#000" font-weight="bold">US Corporate Credit Strategy Chartbook</text>
<text x="531.20" y="136.70" font-size="6.5" fill="#222" textLength="127.2" lengthAdjust="spacing">MORGAN STANLEY RESEARCH</text>
<text x="531.50" y="143.50" font-size="6" fill="#111" font-weight="bold">North America</text>
<text x="531.60" y="160.00" font-size="8" fill="#111" font-weight="bold">US Credit Strategy</text>
<text x="531.40" y="182.10" font-size="8" fill="#111" font-weight="bold">Srikanth Sankaran</text>
<text x="531.40" y="190.70" font-size="7" fill="#222">Strategist</text>
<text x="531.40" y="200.50" font-size="7" fill="#222">Srikanth.Sankaran@morganstanley.com</text>
<text x="531.40" y="210.80" font-size="7" fill="#222">+1 212.761.3910</text>
<text x="531.40" y="227.88" font-size="8" fill="#111" font-weight="bold">Vishwas Patkar</text>
<text x="531.40" y="236.48" font-size="7" fill="#222">Strategist</text>
<text x="531.40" y="246.28" font-size="7" fill="#222">Vishwas.Patkar@morganstanley.com</text>
<text x="531.40" y="256.58" font-size="7" fill="#222">+1 212.761.8041</text>
<text x="531.40" y="273.66" font-size="8" fill="#111" font-weight="bold">Joyce Jiang</text>
<text x="531.40" y="282.26" font-size="7" fill="#222">Strategist</text>
<text x="531.40" y="292.06" font-size="7" fill="#222">Joyce.Jiang@morganstanley.com</text>
<text x="531.40" y="302.36" font-size="7" fill="#222">+1 212.761.0165</text>
<text x="531.40" y="319.44" font-size="8" fill="#111" font-weight="bold">Karen Chen</text>
<text x="531.40" y="328.04" font-size="7" fill="#222">Strategist</text>
<text x="531.40" y="337.84" font-size="7" fill="#222">Karen.Chen@morganstanley.com</text>
<text x="531.40" y="348.14" font-size="7" fill="#222">+1 212.761.1199</text>
<text x="531.40" y="365.22" font-size="8" fill="#111" font-weight="bold">Taylor Twamley</text>
<text x="531.40" y="373.82" font-size="7" fill="#222">Strategist</text>
<text x="531.40" y="383.62" font-size="7" fill="#222">Taylor.Twamley@morganstanley.com</text>
<text x="531.40" y="393.92" font-size="7" fill="#222">+1 212.761.2317</text>
<text x="27.00" y="444.30" font-size="7" fill="#7f7f7f">Source: Morgan Stanley, S&amp;P LCD, Bloomberg. Note: All returns are as of 10/31/2022, unless otherwise noted.</text>
<text x="27.00" y="465.00" font-size="7" fill="#222" font-weight="bold">For important disclosures, refer to the Disclosures Section, located at the end of this report.</text>
</svg>
</body></html>
